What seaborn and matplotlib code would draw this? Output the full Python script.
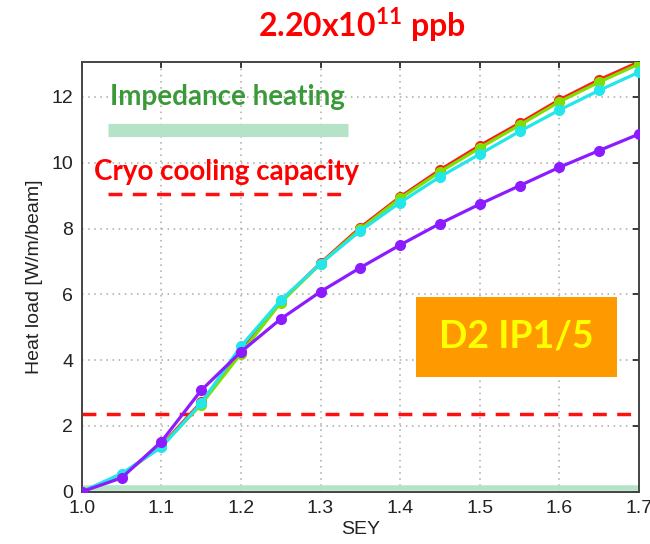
import matplotlib
matplotlib.use("Agg")
import matplotlib.pyplot as plt
from matplotlib.patches import Rectangle
import seaborn as sns
import pandas as pd

sey = [1.0, 1.05, 1.1, 1.15, 1.2, 1.25, 1.3, 1.35, 1.4, 1.45, 1.5, 1.55, 1.6, 1.65, 1.7]
red = [0.0, 0.5, 1.4, 2.72, 4.25, 5.78, 6.95, 8.03, 8.96, 9.78, 10.52, 11.2, 11.91, 12.52, 13.06]
green = [0.0, 0.5, 1.38, 2.65, 4.2, 5.75, 6.93, 7.98, 8.92, 9.72, 10.45, 11.14, 11.85, 12.45, 13.0]
cyan = [0.0, 0.55, 1.35, 2.69, 4.42, 5.82, 6.93, 7.93, 8.79, 9.57, 10.26, 10.95, 11.6, 12.2, 12.75]
purple = [0.0, 0.42, 1.52, 3.08, 4.25, 5.25, 6.08, 6.81, 7.5, 8.15, 8.74, 9.3, 9.86, 10.37, 10.87]

cryo_capacity = 2.35
impedance = 0.12
xticks = [1.0, 1.1, 1.2, 1.3, 1.4, 1.5, 1.6, 1.7]
yticks = [0, 2, 4, 6, 8, 10, 12]

series_names = ["red", "green", "cyan", "purple"]
series_vals = [red, green, cyan, purple]
palette = {"red": "#ff1a1a", "green": "#7ee000", "cyan": "#22e6ea", "purple": "#8c1cff"}

rows = []
for name, vals in zip(series_names, series_vals):
    for x, y in zip(sey, vals):
        rows.append({"SEY": x, "load": y, "series": name})
df = pd.DataFrame(rows)

sns.set_theme(style="white")
plt.rcParams["font.family"] = ["Liberation Sans", "DejaVu Sans"]
plt.rcParams["mathtext.fontset"] = "custom"
plt.rcParams["mathtext.bf"] = "Lato:bold"
plt.rcParams["mathtext.rm"] = "Lato:bold"

fig = plt.figure(figsize=(6.5, 5.44), dpi=100)
ax = fig.add_axes([0.1257, 0.0961, 0.983 - 0.1257, 0.8866 - 0.0961])

# reference lines
ax.axhline(impedance, color="#b5e3c8", lw=4, zorder=1)
ax.axhline(cryo_capacity, color="#ff1010", lw=2.5, ls=(0, (4, 3)), zorder=1)

sns.lineplot(data=df, x="SEY", y="load", hue="series", hue_order=series_names,
             palette=palette, marker="o", markersize=8, markeredgewidth=0,
             linewidth=2.3, sort=False, legend=False, ax=ax, zorder=3)

ax.set_xlim(1.0, 1.7)
ax.set_ylim(0, 13.07)
ax.set_xticks(xticks)
ax.set_xticklabels([f"{v:.1f}" for v in xticks])
ax.set_yticks(yticks)
ax.grid(True, color="#a8a8a8", ls=(0, (1, 3)), lw=1.1)
ax.tick_params(axis="both", labelsize=14, colors="#222222", direction="in", length=4,
               right=True, top=True, pad=6)
ax.set_xlabel("SEY", fontsize=14, color="#222222", labelpad=3)
ax.set_ylabel("Heat load [W/m/beam]", fontsize=14, color="#222222", labelpad=6)
for sp in ax.spines.values():
    sp.set_color("#444444")
    sp.set_linewidth(1.4)

# legend-like annotations
ax.text(1.036, 12.0, "Impedance heating", color="#3a9a3a", fontsize=20,
        fontweight="bold", family=["Lato", "DejaVu Sans"], va="center", ha="left")
ax.plot([1.0325, 1.335], [11.0, 11.0], color="#b5e3c8", lw=9.5, solid_capstyle="butt", zorder=2)
ax.text(1.016, 9.72, "Cryo cooling capacity", color="#ff0000", fontsize=20,
        fontweight="bold", family=["Lato", "DejaVu Sans"], va="center", ha="left")
ax.plot([1.0325, 1.326], [9.05, 9.05], color="#ff1010", lw=2.5, ls=(0, (4, 3)), zorder=2)

# orange box
ax.add_patch(Rectangle((0.600, 0.267), 0.3605, 0.186, transform=ax.transAxes,
                       fc="#ff9900", ec="none", zorder=5))
ax.text(0.7803, 0.36, "D2 IP1/5", transform=ax.transAxes, color="#ffff00", fontsize=27,
        fontweight="bold", family=["Lato", "DejaVu Sans"], ha="center", va="center",
        zorder=6)

fig.text(0.556, 0.955, r"2.20x10$^{\mathbf{11}}$ ppb", color="#ff0000", fontsize=23,
         fontweight="bold", family=["Lato", "DejaVu Sans"], ha="center", va="center")

fig.savefig("out.png", dpi=100, facecolor="white")
